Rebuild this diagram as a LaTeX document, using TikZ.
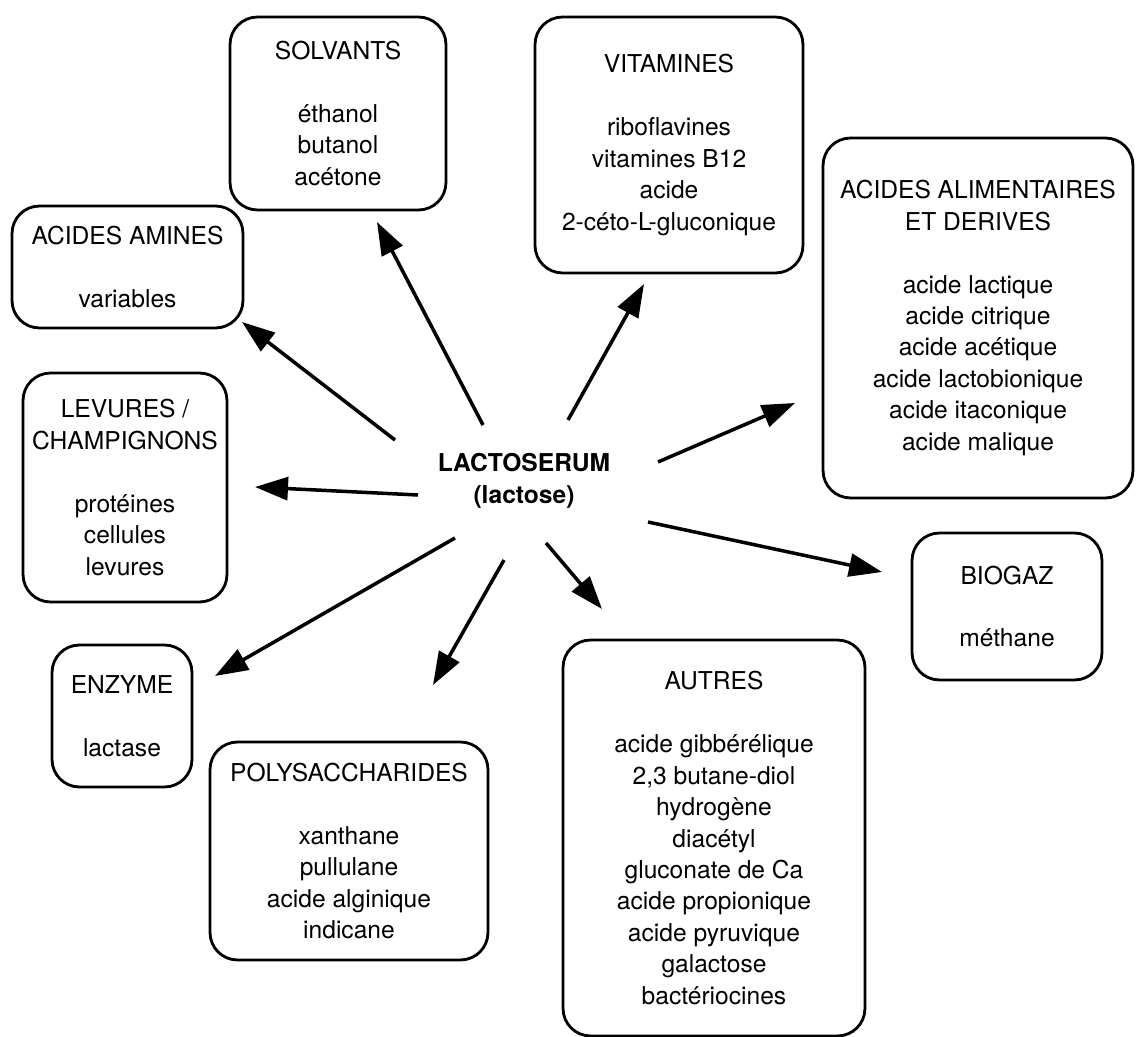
\documentclass[tikz,border=0pt]{standalone}
\usepackage{fontspec}
\setmainfont{TeX Gyre Heros}
\usepackage{tikz}
\usetikzlibrary{arrows.meta}

\begin{document}
\begin{tikzpicture}[x=0.02cm, y=-0.02cm,
    boite/.style={draw, line width=1.6pt, rounded corners=0.55cm, inner sep=0pt,
      align=center, font=\fontsize{14}{17.9}\selectfont},
    fleche/.style={line width=2pt, -{Triangle[length=0.66cm, width=0.46cm]}}]
  \useasboundingbox (0,0) rectangle (1137,1037);
  % centre
  \node[align=center, font=\fontsize{14}{17.9}\selectfont\bfseries] (lacto) at (524,481) {LACTOSERUM\\(lactose)};
  % boites
  \node[boite, minimum width=4.32cm, minimum height=3.86cm] (solv) at (338,113.5)
    {SOLVANTS\\[17.9pt] éthanol\\ butanol\\ acétone};
  \node[boite, minimum width=5.36cm, minimum height=5.12cm] (vita) at (669,145)
    {VITAMINES\\[17.9pt] riboflavines\\ vitamines B12\\ acide\\ 2-céto-L-gluconique};
  \node[boite, minimum width=4.62cm, minimum height=2.44cm] (amin) at (127.5,267)
    {ACIDES AMINES\\[17.9pt] variables};
  \node[boite, minimum width=6.2cm, minimum height=7.2cm] (alim) at (978,318)
    {ACIDES ALIMENTAIRES\\ ET DERIVES\\[17.9pt] acide lactique\\ acide citrique\\ acide acétique\\
     acide lactobionique\\ acide itaconique\\ acide malique};
  \node[boite, minimum width=4.08cm, minimum height=4.58cm] (lev) at (125,487.5)
    {LEVURES /\\ CHAMPIGNONS\\[17.9pt] protéines\\ cellules\\ levures};
  \node[boite, minimum width=3.8cm, minimum height=2.94cm] (bio) at (1007,606.5)
    {BIOGAZ\\[17.9pt] méthane};
  \node[boite, minimum width=2.8cm, minimum height=2.84cm] (enz) at (122,716)
    {ENZYME\\[17.9pt] lactase};
  \node[boite, minimum width=5.56cm, minimum height=4.36cm] (poly) at (349,851)
    {POLYSACCHARIDES\\[17.9pt] xanthane\\ pullulane\\ acide alginique\\ indicane};
  \node[boite, minimum width=6.04cm, minimum height=7.92cm] (autr) at (714,838)
    {AUTRES\\[17.9pt] acide gibbérélique\\ 2,3 butane-diol\\ hydrogène\\ diacétyl\\
     gluconate de Ca\\ acide propionique\\ acide pyruvique\\ galactose\\ bactériocines};
  % depart et pointe des fleches
  \coordinate (dSolv) at (483,425);  \coordinate (pSolv) at (377,222);
  \coordinate (dVita) at (568,420);  \coordinate (pVita) at (644,284);
  \coordinate (dAmin) at (395,440);  \coordinate (pAmin) at (242,322);
  \coordinate (dAlim) at (658,462);  \coordinate (pAlim) at (795,403);
  \coordinate (dLev)  at (418,495);  \coordinate (pLev)  at (255,487);
  \coordinate (dBio)  at (648,522);  \coordinate (pBio)  at (882,572);
  \coordinate (dEnz)  at (455,538);  \coordinate (pEnz)  at (215,676);
  \coordinate (dPoly) at (504,560);  \coordinate (pPoly) at (433,685);
  \coordinate (dAutr) at (546,543);  \coordinate (pAutr) at (602,609);
  \foreach \n in {Solv,Vita,Amin,Alim,Lev,Bio,Enz,Poly,Autr}
    \draw[fleche] (d\n) -- (p\n);
\end{tikzpicture}
\end{document}
